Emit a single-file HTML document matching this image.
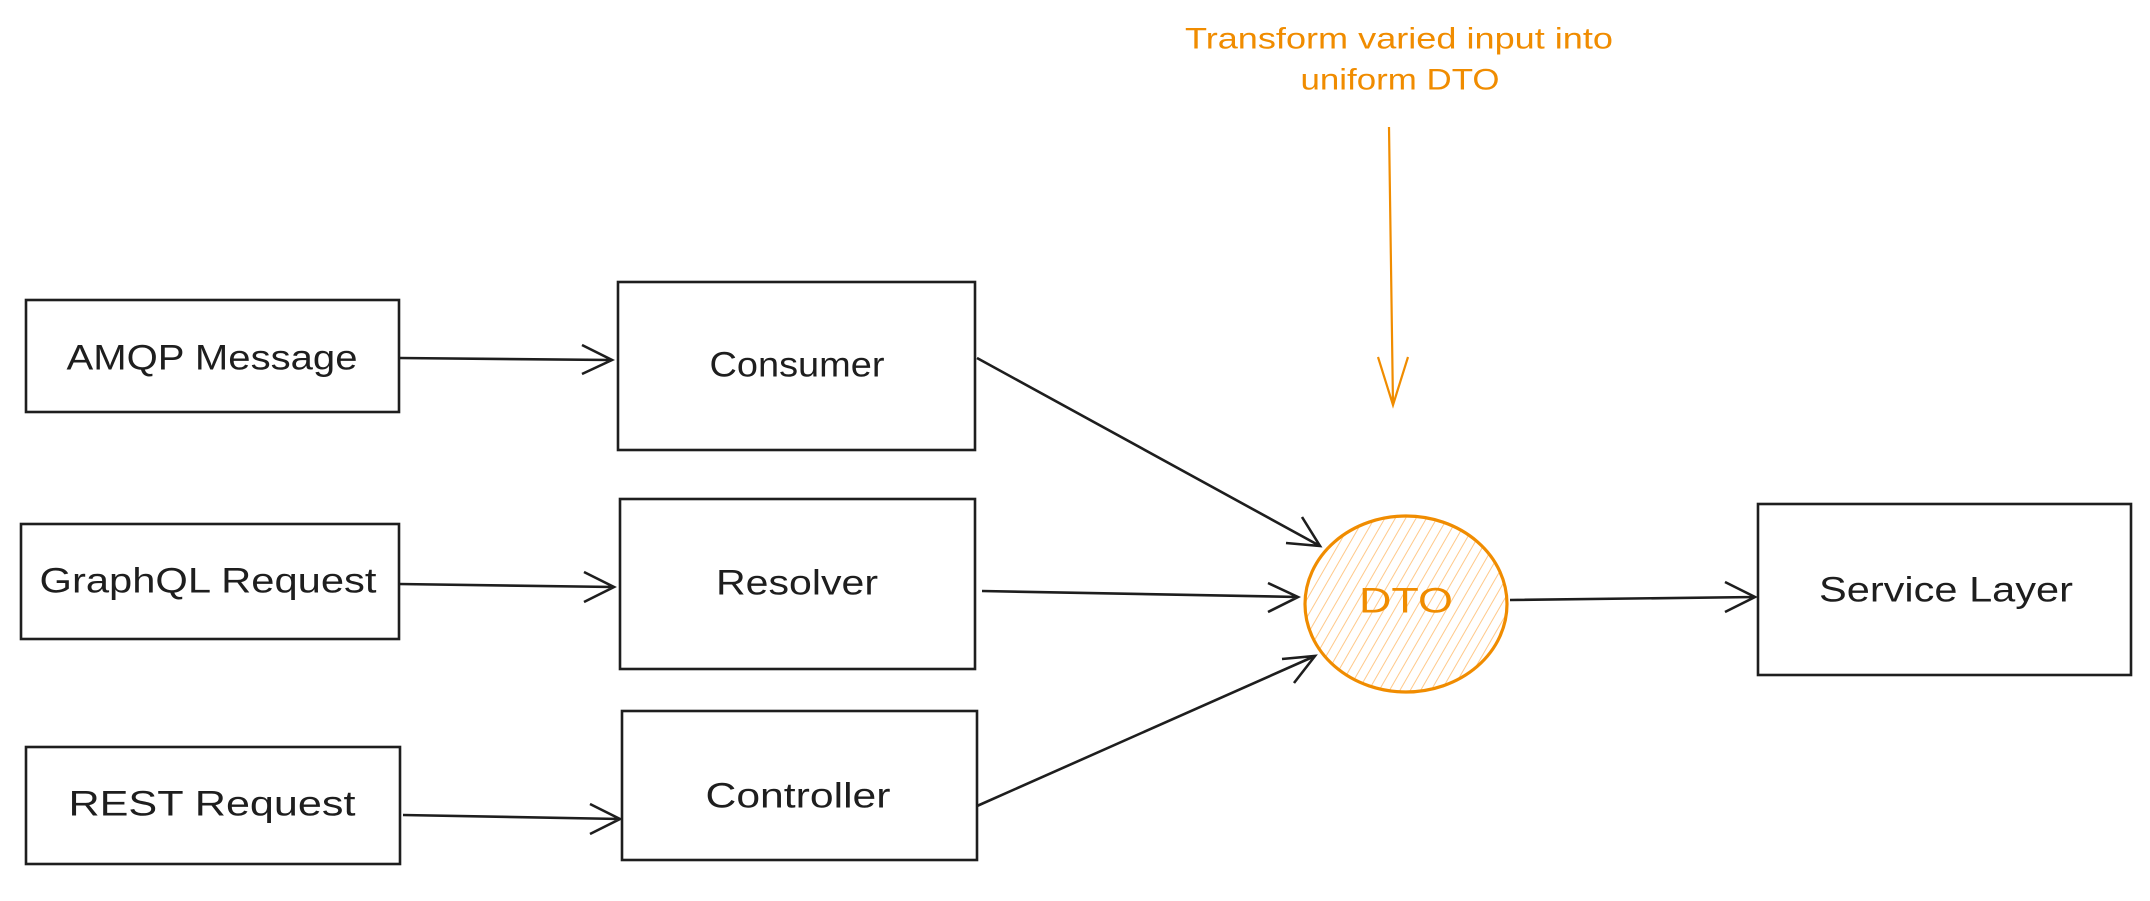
<!DOCTYPE html>
<html><head><meta charset="utf-8"><style>
html,body{margin:0;padding:0;background:#fff;}
svg{display:block;}
text{font-family:"Liberation Sans",sans-serif;}
</style></head><body>
<svg width="2150" height="901" viewBox="0 0 2150 901" xmlns="http://www.w3.org/2000/svg">
<defs>
<pattern id="h" width="9" height="9" patternUnits="userSpaceOnUse" patternTransform="rotate(30)">
<line x1="0" y1="0" x2="0" y2="9" stroke="#ffc98a" stroke-width="2"/>
</pattern>
</defs>
<rect width="2150" height="901" fill="#fff"/>
<g fill="none" stroke="#1e1e1e" stroke-width="2.6">
<rect x="26" y="300" width="373" height="112"/>
<rect x="618" y="282" width="357" height="168"/>
<rect x="21" y="524" width="378" height="115"/>
<rect x="620" y="499" width="355" height="170"/>
<rect x="26" y="747" width="374" height="117"/>
<rect x="622" y="711" width="355" height="149"/>
<rect x="1758" y="504" width="373" height="171"/>
<path d="M399 358 L612 360 M582 345 L612 360 L582 374"/>
<path d="M399 584 L614 587 M584 572 L614 587 L584 602"/>
<path d="M403 815 L620 819 M590 804 L620 819 L590 834"/>
<path d="M977 358 L1320 546 M1302 517 L1320 546 L1286 543"/>
<path d="M982 591 L1298 597 M1268 583 L1298 597 L1268 612"/>
<path d="M977 806 L1315 656 M1282 659 L1315 656 L1294 683"/>
<path d="M1510 600 L1755 597 M1725 582 L1755 597 L1725 612"/>
</g>
<ellipse cx="1406" cy="604" rx="101" ry="88" fill="url(#h)" stroke="#f08c00" stroke-width="3.2"/>
<path d="M1389 127 L1393 405 M1378 357 L1393 405 L1408 357" fill="none" stroke="#f08c00" stroke-width="2.2"/>
<g font-size="35" fill="#1e1e1e" text-anchor="middle" dominant-baseline="central">
<text x="212" y="358" textLength="291" lengthAdjust="spacingAndGlyphs">AMQP Message</text>
<text x="797" y="365" textLength="175" lengthAdjust="spacingAndGlyphs">Consumer</text>
<text x="208" y="581" textLength="337" lengthAdjust="spacingAndGlyphs">GraphQL Request</text>
<text x="797" y="583" textLength="162" lengthAdjust="spacingAndGlyphs">Resolver</text>
<text x="212" y="804" textLength="287" lengthAdjust="spacingAndGlyphs">REST Request</text>
<text x="798" y="796" textLength="185" lengthAdjust="spacingAndGlyphs">Controller</text>
<text x="1946" y="590" textLength="254" lengthAdjust="spacingAndGlyphs">Service Layer</text>
</g>
<text x="1406" y="601" font-size="35" fill="#f08c00" text-anchor="middle" dominant-baseline="central" textLength="94" lengthAdjust="spacingAndGlyphs">DTO</text>
<g font-size="30" fill="#f08c00" text-anchor="middle" dominant-baseline="central">
<text x="1399" y="39" textLength="428" lengthAdjust="spacingAndGlyphs">Transform varied input into</text>
<text x="1400" y="80" textLength="199" lengthAdjust="spacingAndGlyphs">uniform DTO</text>
</g>
</svg>
</body></html>
